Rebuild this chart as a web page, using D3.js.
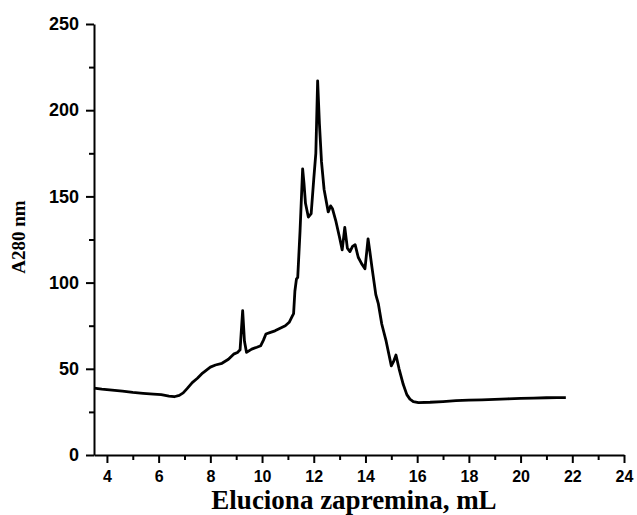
<!DOCTYPE html>
<html>
<head>
<meta charset="utf-8">
<script src="https://cdn.jsdelivr.net/npm/d3@7"></script>
<style>
	body { margin: 0; background: #fff; }
	.tick text { font-family: "Liberation Sans", Arial, sans-serif; font-weight: bold; fill: #000; }
	.title { font-family: "Liberation Serif", "Times New Roman", serif; font-weight: bold; fill: #000; }
</style>
</head>
<body>
<script>
// elution volume (mL)
var volume = [3.5, 3.8, 4.2, 4.6, 5.0, 5.4, 5.8, 6.1, 6.4, 6.6, 6.8, 6.95, 7.1, 7.3, 7.5, 7.7,
	8.0, 8.2, 8.45, 8.7, 8.9, 9.05, 9.15, 9.25, 9.32, 9.4, 9.6, 9.8, 9.95, 10.05, 10.15, 10.3,
	10.5, 10.7, 10.9, 11.05, 11.15, 11.22, 11.27, 11.33, 11.38, 11.47, 11.57, 11.62, 11.68, 11.79,
	11.9, 12.0, 12.08, 12.15, 12.22, 12.3, 12.4, 12.56, 12.65, 12.72, 12.85, 13.0, 13.1, 13.2,
	13.3, 13.4, 13.5, 13.6, 13.72, 13.85, 13.98, 14.05, 14.1, 14.17, 14.25, 14.4, 14.5, 14.63,
	14.8, 15.0, 15.08, 15.18, 15.3, 15.46, 15.6, 15.72, 15.85, 16.05, 16.5, 17, 17.5, 18, 18.5,
	19, 19.5, 20, 20.5, 21, 21.4, 21.75];

// absorbance at 280 nm
var a280 = [38.8, 38.2, 37.6, 37, 36.3, 35.8, 35.3, 35, 34.2, 33.8, 34.6, 36, 38.5, 42, 44.5, 47.5,
	51, 52.2, 53.2, 55.5, 58.5, 59.5, 61, 83.7, 66, 59.5, 61.4, 62.5, 63.4, 66.5, 70.2, 71,
	72, 73.5, 75, 77, 80, 82, 95, 102, 103, 130, 166, 158, 146, 138,
	140, 160, 175, 217, 192, 170, 154, 141, 144.5, 143, 136, 126, 119, 132,
	120, 118, 121, 122, 114.7, 111, 108, 118, 125.4, 118, 109, 93, 87.6, 76,
	66, 51.7, 54, 58, 50, 41, 35, 32.4, 31, 30.4, 30.6, 31, 31.5, 31.8, 32,
	32.3, 32.6, 32.8, 33, 33.2, 33.3, 33.3];

var xTicks = [4, 6, 8, 10, 12, 14, 16, 18, 20, 22, 24];
var xMinor = [5, 7, 9, 11, 13, 15, 17, 19, 21, 23];
var yTicks = [0, 50, 100, 150, 200, 250];
var yMinor = [25, 75, 125, 175, 225];

var xLabel = "Eluciona zapremina, mL";
var yLabel = "A280 nm";

var width = 637, height = 515;

var svg = d3.select("body")
	.append("svg")
	.attr("width", width)
	.attr("height", height);

var x = d3.scaleLinear().domain([3.5, 24]).range([94, 624]);
var y = d3.scaleLinear().domain([0, 250]).range([455, 24]);

// minor ticks first, then the main axes on top
svg.append("g")
	.attr("transform", "translate(0," + y(0) + ")")
	.call(d3.axisBottom(x).tickValues(xMinor).tickSize(5).tickFormat(""))
	.call(function(g) { g.select(".domain").remove(); });

svg.append("g")
	.attr("transform", "translate(" + x(3.5) + ",0)")
	.call(d3.axisLeft(y).tickValues(yMinor).tickSize(5).tickFormat(""))
	.call(function(g) { g.select(".domain").remove(); });

var xAxis = svg.append("g")
	.attr("transform", "translate(0," + y(0) + ")")
	.call(d3.axisBottom(x).tickValues(xTicks).tickSize(8).tickSizeOuter(0).tickPadding(8));

xAxis.selectAll("text").style("font-size", "16px");

var yAxis = svg.append("g")
	.attr("transform", "translate(" + x(3.5) + ",0)")
	.call(d3.axisLeft(y).tickValues(yTicks).tickSize(8).tickSizeOuter(0).tickPadding(7));

yAxis.selectAll("text").style("font-size", "18px");

svg.selectAll(".domain, .tick line")
	.attr("stroke", "#000")
	.attr("stroke-width", 2);

// chromatogram trace
var line = d3.line()
	.x(function(d, i) { return x(volume[i]); })
	.y(function(d) { return y(d); });

svg.append("path")
	.datum(a280)
	.attr("d", line)
	.attr("fill", "none")
	.attr("stroke", "#000")
	.attr("stroke-width", 2.8)
	.attr("stroke-linejoin", "round");

// axis titles
svg.append("text")
	.attr("class", "title")
	.attr("x", 354)
	.attr("y", 509)
	.attr("text-anchor", "middle")
	.style("font-size", "27px")
	.text(xLabel);

svg.append("text")
	.attr("class", "title")
	.attr("transform", "translate(25,237) rotate(-90)")
	.attr("text-anchor", "middle")
	.style("font-size", "19px")
	.text(yLabel);
</script>
</body>
</html>
